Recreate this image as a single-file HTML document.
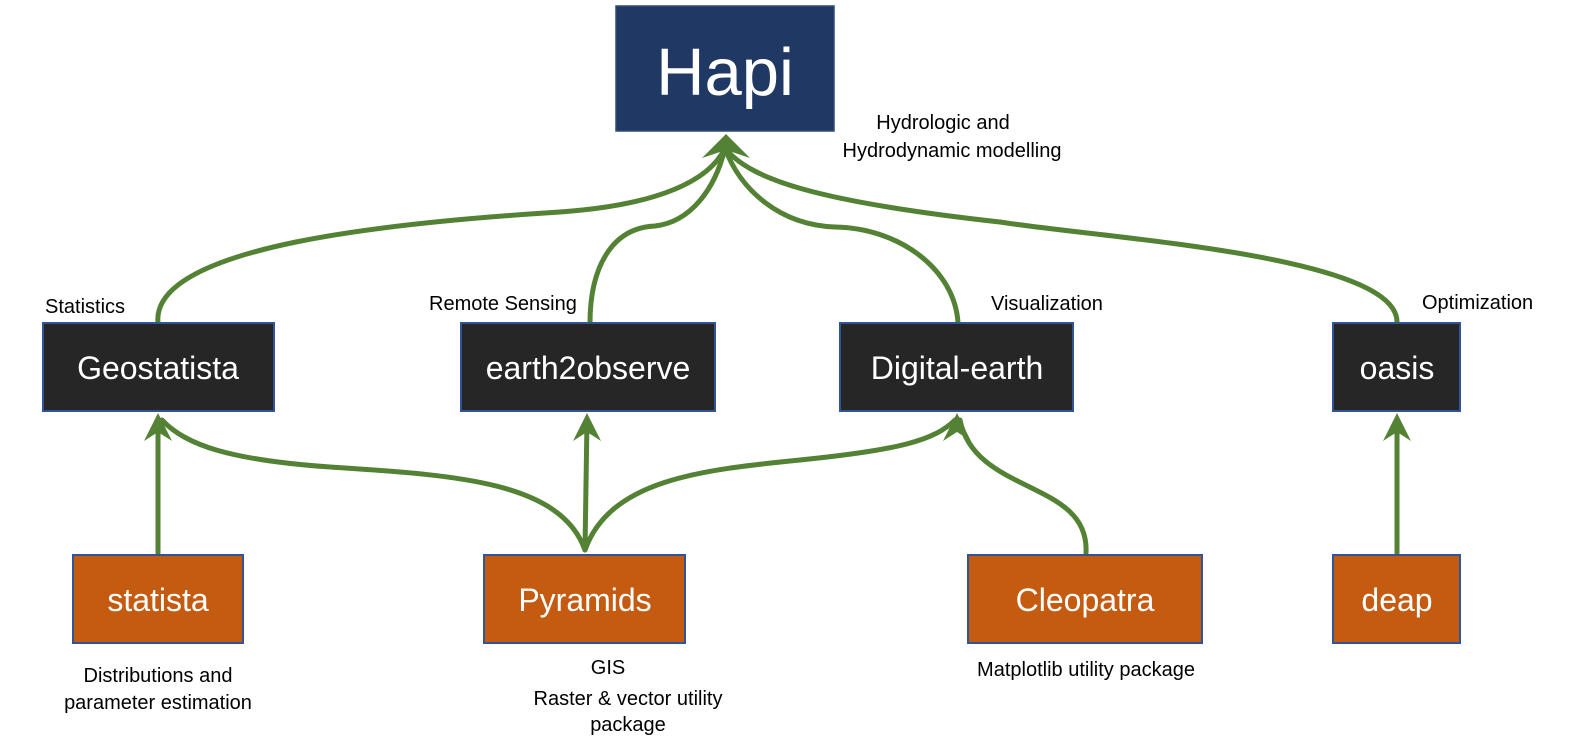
<!DOCTYPE html>
<html><head><style>
html,body{margin:0;padding:0;background:#fff;}
svg{display:block;}
text{font-family:"Liberation Sans",sans-serif;}
</style></head><body>
<svg width="1573" height="754" viewBox="0 0 1573 754" xmlns="http://www.w3.org/2000/svg">
<g fill="none" stroke="#548235" stroke-width="5" stroke-linecap="round">
<path d="M158,323 C150,245 400,222 560,212 C660,205 710,180 725,148"/>
<path d="M590,323 C590,270 610,228 655,226 C690,222 715,190 725,148"/>
<path d="M958,323 C955,270 900,228 835,227 C780,225 740,190 725,148"/>
<path d="M1397,323 C1400,255 1100,238 1000,222 C820,202 750,180 725,148"/>
<path d="M158,553 L158,420"/>
<path d="M585,550 C560,480 450,475 330,467 C230,460 185,445 162,420"/>
<path d="M585,550 L587,420"/>
<path d="M585,550 C610,480 700,470 800,460 C900,450 935,440 955,420"/>
<path d="M1086,553 C1090,480 975,495 960,420"/>
<path d="M1397,553 L1397,420"/>
</g>
<g fill="#548235">
<polygon points="726,134 702,158 726,150 750,158"/>
<polygon points="158,413 144,441 158,432 172,441"/>
<polygon points="587,413 573,441 587,432 601,441"/>
<polygon points="957,413 943,441 957,432 971,441"/>
<polygon points="1397,413 1383,441 1397,432 1411,441"/>
</g>
<rect x="616" y="6" width="218" height="125" fill="#203864" stroke="#2f4a75" stroke-width="1.5"/>
<text x="725" y="95" fill="#fff" font-size="67" text-anchor="middle">Hapi</text>
<g stroke="#2f5597" stroke-width="2" fill="#262626">
<rect x="43" y="323" width="231" height="88"/>
<rect x="461" y="323" width="254" height="88"/>
<rect x="840" y="323" width="233" height="88"/>
<rect x="1333" y="323" width="127" height="88"/>
</g>
<g stroke="#2f5597" stroke-width="2" fill="#c55a11">
<rect x="73" y="555" width="170" height="88"/>
<rect x="484" y="555" width="201" height="88"/>
<rect x="968" y="555" width="234" height="88"/>
<rect x="1333" y="555" width="127" height="88"/>
</g>
<g fill="#fff" font-size="32" text-anchor="middle">
<text x="158" y="379">Geostatista</text>
<text x="588" y="379">earth2observe</text>
<text x="957" y="379">Digital-earth</text>
<text x="1397" y="379">oasis</text>
<text x="158" y="611">statista</text>
<text x="585" y="611">Pyramids</text>
<text x="1085" y="611">Cleopatra</text>
<text x="1397" y="611">deap</text>
</g>
<g fill="#000" font-size="20">
<text x="943" y="129" text-anchor="middle">Hydrologic and</text>
<text x="952" y="157" text-anchor="middle">Hydrodynamic modelling</text>
<text x="45" y="313">Statistics</text>
<text x="429" y="310">Remote Sensing</text>
<text x="991" y="310">Visualization</text>
<text x="1422" y="309">Optimization</text>
<text x="158" y="682" text-anchor="middle">Distributions and</text>
<text x="158" y="709" text-anchor="middle">parameter estimation</text>
<text x="608" y="674" text-anchor="middle">GIS</text>
<text x="628" y="705" text-anchor="middle">Raster &amp; vector utility</text>
<text x="628" y="731" text-anchor="middle">package</text>
<text x="1086" y="676" text-anchor="middle">Matplotlib utility package</text>
</g>
</svg>
</body></html>
